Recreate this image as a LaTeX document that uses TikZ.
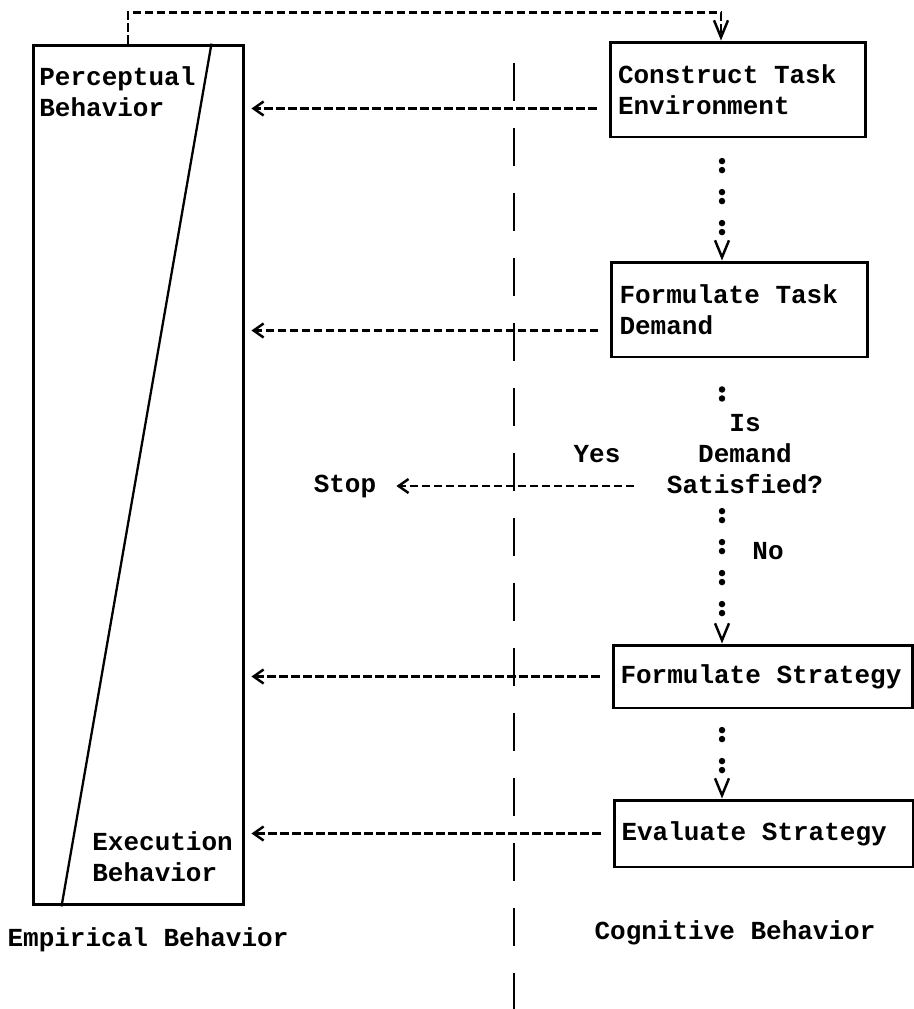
\documentclass[tikz,border=0pt]{standalone}
\usepackage{fontspec}
\setmainfont{Liberation Mono}
\usetikzlibrary{arrows.meta}

\begin{document}
\begin{tikzpicture}[x=0.02cm,y=-0.02cm,
  font=\fontsize{14.8}{17.6}\selectfont\bfseries,
  box/.style={draw,line width=1.7pt,inner ysep=0pt,inner xsep=.16cm,align=left,
    execute at begin node={\spaceskip=0pt\xspaceskip=0pt}},
  flow/.style={line width=1.6pt,dash pattern=on .17cm off .07cm,shorten <=.24cm,shorten >=.12cm,
    -{Straight Barb[length=.2cm,width=.28cm,line width=1.4pt]}},
  vtip/.style={{Straight Barb[length=.34cm,width=.28cm,line width=1.4pt]}-},
  dotsbase/.style={line width=.13cm,line cap=round},
  dots1/.style={dotsbase,dash pattern=on 0pt off .18cm on 0pt off 19.82cm,dash phase=19.38cm},
  dots2/.style={dotsbase,vtip,dash pattern=on 0pt off .18cm on 0pt off .44cm on 0pt off .18cm on 0pt off 19.2cm,dash phase=19.52cm},
  dots3/.style={dotsbase,vtip,dash pattern=on 0pt off .18cm on 0pt off .44cm on 0pt off .18cm on 0pt off .44cm on 0pt off .18cm on 0pt off 18.58cm,dash phase=19.52cm},
  dots4/.style={dotsbase,vtip,dash pattern=on 0pt off .18cm on 0pt off .44cm on 0pt off .18cm on 0pt off .44cm on 0pt off .18cm on 0pt off .44cm on 0pt off .18cm on 0pt off 17.96cm,dash phase=19.48cm}]

\useasboundingbox (0,0) rectangle (914,1009);

\node[box,text width=4.8cm,minimum height=1.9cm] (constr) at (738,89.5) {Construct Task\\Environment};
\node[box,text width=4.8cm,minimum height=1.9cm] (demand) at (739.5,309.5) {Formulate Task\\Demand};
\node[box,text width=5.7cm,minimum height=1.26cm,inner xsep=.15cm] (strat) at (763,676.5) {Formulate Strategy};
\node[box,text width=5.7cm,minimum height=1.34cm,inner xsep=.15cm] (eval) at (764,833.5) {Evaluate Strategy};

\node[draw,line width=1.7pt,minimum width=4.22cm,minimum height=17.2cm,inner sep=0pt] (empir) at (138.5,475) {};
\node[anchor=west,inner sep=0pt,align=left] (percep) at (39,92) {Perceptual\\Behavior};
\node[anchor=west,inner sep=0pt,align=left] (exec) at (92,857) {Execution\\Behavior};
\draw[line width=1.3pt] ([xshift=3.6cm]empir.north west) -- ([xshift=.6cm]empir.south west);

\node[align=center] (decide) at (745,454) {Is\\Demand\\Satisfied?};
\node (yes) at (597,454) {Yes};
\node (no) at (768,551) {No};
\node (stop) at (345,486) {Stop};
\coordinate (yesend) at (634,486);

\node (emplab) at (148,940) {Empirical Behavior};
\node (coglab) at (735,933) {Cognitive Behavior};

\draw[line width=1.4pt,dash pattern=on .76cm off .54cm] (514,63) -- (514,1009);

\draw[line width=1.6pt,dash pattern=on .17cm off .07cm,-{Straight Barb[length=.34cm,width=.28cm,line width=1.4pt]}]
  ([xshift=-.21cm]empir.north) |- ([xshift=-.34cm,yshift=.56cm]constr.north) -- ([xshift=-.34cm]constr.north);

\draw[flow] ([yshift=-.38cm]constr.west) -- ([yshift=-.38cm]constr.west -| empir.east);
\draw[flow] ([yshift=-.42cm]demand.west) -- ([yshift=-.42cm]demand.west -| empir.east);
\draw[flow] (strat.west) -- (strat.west -| empir.east);
\draw[flow] (eval.west) -- (eval.west -| empir.east);
\draw[flow,shorten <=0pt,shorten >=.28cm] (yesend) -- (stop.east);

\draw[dots3] ([xshift=-.35cm]demand.north) -- ([xshift=-.35cm]demand.north |- constr.south);
\draw[dots1] ([xshift=-.35cm]demand.south) -- ([xshift=-.35cm]demand.south |- decide.north);
\draw[dots4] ([xshift=-.82cm]strat.north) -- ([xshift=-.82cm]strat.north |- decide.south);
\draw[dots2] ([xshift=-.84cm]eval.north) -- ([xshift=-.84cm]eval.north |- strat.south);
\end{tikzpicture}
\end{document}
